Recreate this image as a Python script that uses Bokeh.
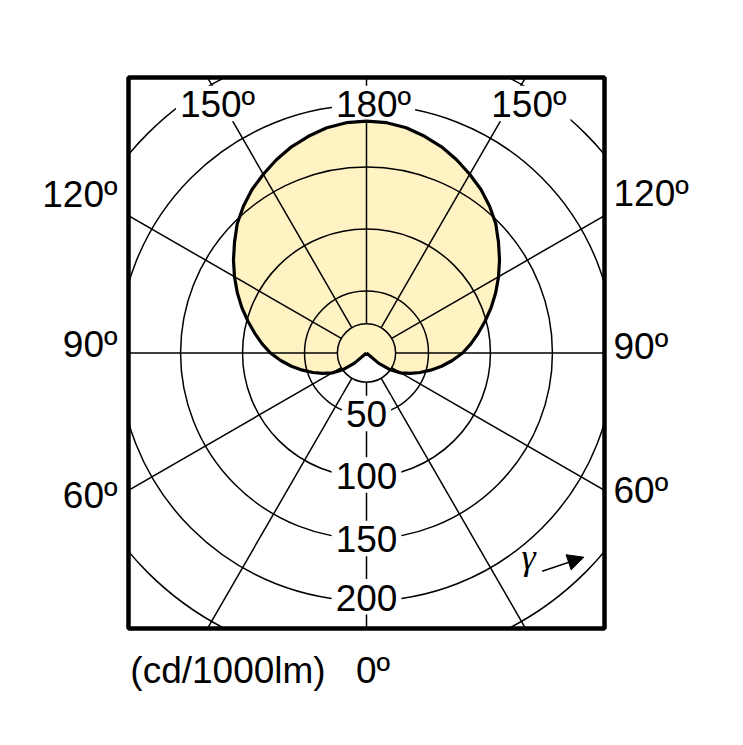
import math
from bokeh.plotting import figure
from bokeh.models import Range1d, Arrow, NormalHead, LinearAxis, FixedTicker
from bokeh.core.properties import value
from bokeh.embed import file_html
from bokeh.resources import INLINE

# ---- data (cd/1000lm) ----
gamma_deg = [0, 5, 10, 15, 20, 25, 30, 35, 40, 45,
             50, 55, 60, 65, 70, 75, 80, 85, 90, 95,
             100, 105, 110, 115, 120, 125, 130, 135, 140, 145,
             150, 155, 160, 165, 170, 175, 180]
intensity = [0, 0, 0, 0, 0, 0, 0, 0, 0, 0,
             13, 24, 32, 39, 46, 53.5, 61.5, 69.5, 77.5, 84.5,
             91.5, 99, 107, 115, 123, 131, 139, 147.5, 154.5, 161,
             166.5, 172, 177, 181, 184.5, 186.5, 187]

grid_radii = [23.5, 50, 100, 150, 200, 250]
radial_angles = [0, 30, 60, 90, 120, 150, 180, 210, 240, 270, 300, 330]
scale_values = ["50", "100", "150", "200"]
side_labels = ["60º", "90º", "120º"]
top_labels = ["150º", "180º", "150º"]
unit_label = "(cd/1000lm)"
zero_label = "0º"

FILL = "#FFF3C4"
FONT = "Liberation Sans"
FS = "37px"
FPX = 37.0
TXT_SHIFT = 13.0  # svg text renders lower than the requested alphabetic baseline

# ---- layout helpers (page pixel -> data units) ----
S = 476 / 384.0
CX, CY = 366.0, 352.5


def px(xp):
    return (xp - CX) / S


def py(yp):
    return (CY - yp) / S


ADV = {"0": .556, "1": .556, "2": .556, "5": .556, "8": .556, "º": .365}


def text_w(t):
    return sum(ADV.get(c, .556) for c in t) * FPX


p = figure(width=735, height=737,
           x_range=Range1d(-192, 192), y_range=Range1d(-222.25, 222.25),
           output_backend="svg", toolbar_location=None,
           x_axis_type=None, y_axis_type=None,
           min_border_left=128, min_border_right=131,
           min_border_top=77, min_border_bottom=109)
p.outline_line_color = "black"
p.outline_line_width = 4.5
p.background_fill_color = "white"
p.border_fill_color = "white"

# ---- luminous intensity curve (both halves) ----
xs, ys = [], []
for g, v in zip(gamma_deg, intensity):
    a = math.radians(g)
    xs.append(v * math.sin(a))
    ys.append(-v * math.cos(a))
for g, v in reversed(list(zip(gamma_deg, intensity))):
    a = math.radians(g)
    xs.append(-v * math.sin(a))
    ys.append(-v * math.cos(a))

p.patch(xs, ys, fill_color=FILL, line_color=None)

# ---- polar grid ----
p.circle(x=[0] * len(grid_radii), y=[0] * len(grid_radii), radius=grid_radii,
         fill_color=None, line_color="black", line_width=1.5)
r_in, r_out = grid_radii[0], 420
x0 = [r_in * math.sin(math.radians(a)) for a in radial_angles]
y0 = [-r_in * math.cos(math.radians(a)) for a in radial_angles]
x1 = [r_out * math.sin(math.radians(a)) for a in radial_angles]
y1 = [-r_out * math.cos(math.radians(a)) for a in radial_angles]
p.segment(x0, y0, x1, y1, line_color="black", line_width=1.5)

# ---- in-frame labels (centre x, baseline y in page px) with white masks ----
in_texts = scale_values + top_labels
in_cx = [366.0, 366.0, 366.0, 366.0, 217.0, 373.0, 528.4]
in_base = [426.7, 488.3, 551.7, 610.0, 116.7, 116.7, 116.7]
cap = 0.716 * FPX
ml, mr, mt, mb = [], [], [], []
for t, cx, b in zip(in_texts, in_cx, in_base):
    w = text_w(t)
    ml.append(px(cx - w / 2 - 4))
    mr.append(px(cx + w / 2 + 4))
    mt.append(py(b - cap - 5))
    mb.append(py(b + 4))
p.quad(left=ml, right=mr, top=mt, bottom=mb, fill_color="white", line_color=None)

p.line(xs, ys, line_color="black", line_width=3.2, line_join="round")

p.text(x=[px(c) for c in in_cx], y=[py(b - TXT_SHIFT) for b in in_base], text=in_texts,
       text_font=value(FONT), text_font_size=value(FS), text_color="black",
       text_align="center", text_baseline="alphabetic")


def side_axis(side, centers, standoff):
    ticks = [py(c) for c in centers]
    ax = LinearAxis(ticker=FixedTicker(ticks=ticks, minor_ticks=[]),
                    major_label_overrides={t: s for t, s in zip(ticks, side_labels)},
                    axis_line_color=None, major_tick_line_color=None,
                    minor_tick_line_color=None, major_tick_in=0, major_tick_out=0,
                    major_label_standoff=standoff,
                    major_label_text_font=FONT, major_label_text_font_size=FS,
                    major_label_text_color="black")
    p.add_layout(ax, side)


side_axis("left", [495.0, 344.0, 194.0], 11)
side_axis("right", [489.7, 346.5, 193.4], 9)

bticks = [px(227.5), px(372.5)]
bax = LinearAxis(ticker=FixedTicker(ticks=bticks, minor_ticks=[]),
                 major_label_overrides={bticks[0]: unit_label, bticks[1]: zero_label},
                 axis_line_color=None, major_tick_line_color=None,
                 minor_tick_line_color=None, major_tick_in=0, major_tick_out=0,
                 major_label_standoff=21,
                 major_label_text_font=FONT, major_label_text_font_size=FS,
                 major_label_text_color="black")
p.add_layout(bax, "below")

# gamma arrow
p.text(x=[px(528.0)], y=[py(569.5 - TXT_SHIFT)], text=["γ"],
       text_font=value("Liberation Serif"), text_font_size=value("36px"),
       text_font_style="italic", text_color="black",
       text_align="center", text_baseline="alphabetic")
p.add_layout(Arrow(end=NormalHead(size=16, fill_color="black", line_color="black"),
                   x_start=px(541.7), y_start=py(570.7),
                   x_end=px(583.3), y_end=py(556.7),
                   line_width=1.5, line_color="black"))

open("out.html", "w").write(file_html(p, INLINE))
